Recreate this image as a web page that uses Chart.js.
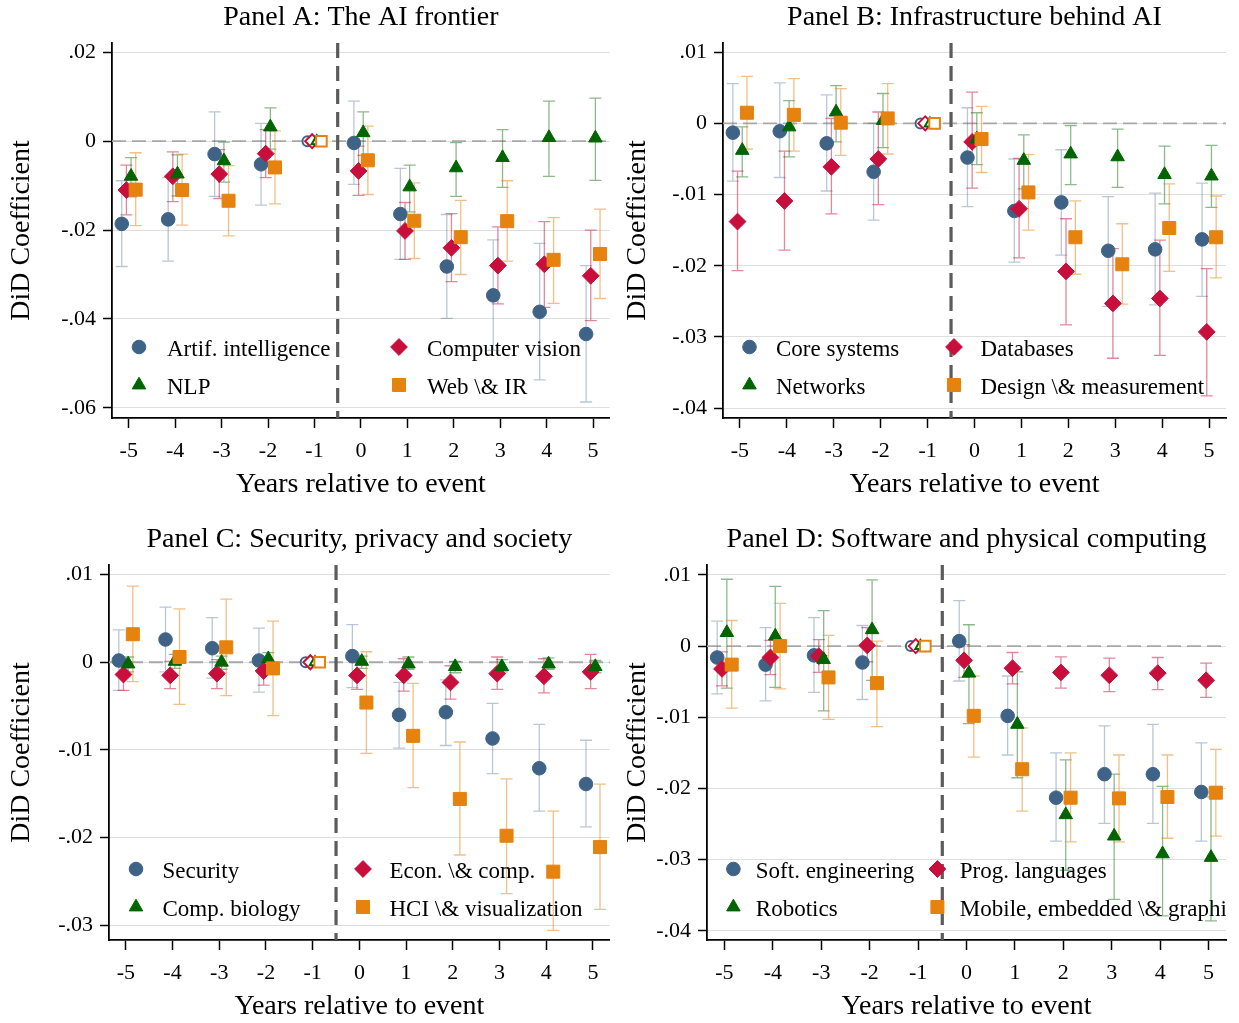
<!DOCTYPE html>
<html>
<head>
<meta charset="utf-8">
<script src="https://cdn.jsdelivr.net/npm/chart.js@4.4.1/dist/chart.umd.min.js"></script>
<style>
    body { margin: 0; background: #fff; }
    #wrap { position: relative; width: 1239px; height: 1023px; }
    canvas { position: absolute; }
</style>
</head>
<body>
<div id="wrap">
    <canvas id="panelA" width="620" height="512" style="left:0;top:0"></canvas>
    <canvas id="panelB" width="619" height="512" style="left:620px;top:0"></canvas>
    <canvas id="panelC" width="620" height="511" style="left:0;top:512px"></canvas>
    <canvas id="panelD" width="619" height="511" style="left:620px;top:512px"></canvas>
</div>
<script>
// Años relativos al evento (-1 es el año de referencia)
const years = [-5, -4, -3, -2, -1, 0, 1, 2, 3, 4, 5];

// Panel A: The AI frontier
const aiCoef = [-0.0186, -0.0176, -0.0029, -0.0052, 0, -0.0004, -0.0164, -0.0282, -0.0347, -0.0384, -0.0434];
const aiLo   = [-0.0282, -0.0270, -0.0124, -0.0144, 0, -0.0097, -0.0266, -0.0399, -0.0471, -0.0537, -0.0587];
const aiHi   = [-0.0089, -0.0082,  0.0066,  0.0040, 0,  0.0090, -0.0061, -0.0165, -0.0222, -0.0230, -0.0280];
const cvCoef = [-0.0110, -0.0079, -0.0074, -0.0028, 0, -0.0067, -0.0202, -0.0240, -0.0280, -0.0277, -0.0303];
const cvLo   = [-0.0166, -0.0136, -0.0129, -0.0082, 0, -0.0122, -0.0266, -0.0316, -0.0366, -0.0374, -0.0404];
const cvHi   = [-0.0054, -0.0024, -0.0019,  0.0026, 0, -0.0011, -0.0138, -0.0163, -0.0193, -0.0181, -0.0200];
const nlpCoef = [-0.0079, -0.0074, -0.0044,  0.0032, 0,  0.0019, -0.0103, -0.0060, -0.0037,  0.0008,  0.0007];
const nlpLo   = [-0.0125, -0.0123, -0.0092, -0.0018, 0, -0.0032, -0.0159, -0.0124, -0.0104, -0.0079, -0.0088];
const nlpHi   = [-0.0037, -0.0031, -0.0002,  0.0075, 0,  0.0066, -0.0054, -0.0003,  0.0026,  0.0090,  0.0097];
const webCoef = [-0.0109, -0.0110, -0.0134, -0.0059, 0, -0.0043, -0.0179, -0.0216, -0.0180, -0.0267, -0.0254];
const webLo   = [-0.0190, -0.0189, -0.0213, -0.0141, 0, -0.0120, -0.0264, -0.0300, -0.0270, -0.0365, -0.0354];
const webHi   = [-0.0026, -0.0029, -0.0055,  0.0023, 0,  0.0034, -0.0094, -0.0133, -0.0089, -0.0172, -0.0153];

// Panel B: Infrastructure behind AI
const coreCoef = [-0.0013, -0.0011, -0.0028, -0.0068, 0, -0.0048, -0.0123, -0.0111, -0.0179, -0.0177, -0.0163];
const coreLo   = [-0.0081, -0.0076, -0.0095, -0.0136, 0, -0.0117, -0.0195, -0.0185, -0.0257, -0.0255, -0.0243];
const coreHi   = [ 0.0056,  0.0057,  0.0040,  0.0000, 0,  0.0022, -0.0050, -0.0037, -0.0103, -0.0098, -0.0084];
const dbCoef = [-0.0138, -0.0109, -0.0061, -0.0050, 0, -0.0026, -0.0120, -0.0208, -0.0253, -0.0246, -0.0293];
const dbLo   = [-0.0207, -0.0178, -0.0127, -0.0114, 0, -0.0091, -0.0189, -0.0283, -0.0330, -0.0326, -0.0383];
const dbHi   = [-0.0067, -0.0039,  0.0007,  0.0016, 0,  0.0044, -0.0049, -0.0134, -0.0176, -0.0164, -0.0204];
const netCoef = [-0.0038, -0.0005,  0.0016,  0.0004, 0, -0.0022, -0.0052, -0.0043, -0.0047, -0.0072, -0.0074];
const netLo   = [-0.0075, -0.0047, -0.0026, -0.0034, 0, -0.0058, -0.0092, -0.0086, -0.0090, -0.0113, -0.0118];
const netHi   = [-0.0005,  0.0032,  0.0053,  0.0042, 0,  0.0015, -0.0016, -0.0003, -0.0008, -0.0032, -0.0031];
const designCoef = [0.0015, 0.0012, 0.0001, 0.0007, 0, -0.0022, -0.0097, -0.0160, -0.0198, -0.0147, -0.0160];
const designLo   = [-0.0036, -0.0039, -0.0045, -0.0043, 0, -0.0069, -0.0150, -0.0212, -0.0254, -0.0208, -0.0217];
const designHi   = [0.0066, 0.0063, 0.0049, 0.0056, 0, 0.0024, -0.0044, -0.0109, -0.0141, -0.0085, -0.0102];

// Panel C: Security, privacy and society
const secCoef = [0.0002, 0.0026, 0.0016, 0.0002, 0, 0.0007, -0.0060, -0.0057, -0.0087, -0.0121, -0.0139];
const secLo   = [-0.0032, -0.0011, -0.0018, -0.0034, 0, -0.0029, -0.0098, -0.0095, -0.0127, -0.0170, -0.0188];
const secHi   = [0.0037, 0.0063, 0.0051, 0.0039, 0, 0.0043, -0.0023, -0.0020, -0.0047, -0.0071, -0.0089];
const econCoef = [-0.0014, -0.0015, -0.0013, -0.0010, 0, -0.0015, -0.0015, -0.0023, -0.0013, -0.0016, -0.0011];
const econLo   = [-0.0032, -0.0030, -0.0030, -0.0026, 0, -0.0031, -0.0033, -0.0042, -0.0031, -0.0035, -0.0030];
const econHi   = [0.0004, 0.0001, 0.0003, 0.0005, 0, 0.0001, 0.0004, -0.0004, 0.0006, 0.0004, 0.0009];
const bioCoef = [-0.0002, 0.0001, 0.0000, 0.0004, 0, 0.0001, -0.0002, -0.0005, -0.0005, -0.0002, -0.0005];
const bioLo   = [-0.0011, -0.0007, -0.0008, -0.0004, 0, -0.0007, -0.0008, -0.0012, -0.0011, -0.0008, -0.0012];
const bioHi   = [0.0006, 0.0009, 0.0007, 0.0011, 0, 0.0007, 0.0006, 0.0001, 0.0003, 0.0005, 0.0002];
const hciCoef = [0.0032, 0.0006, 0.0017, -0.0007, 0, -0.0046, -0.0084, -0.0156, -0.0198, -0.0239, -0.0211];
const hciLo   = [-0.0022, -0.0048, -0.0038, -0.0061, 0, -0.0104, -0.0143, -0.0220, -0.0264, -0.0306, -0.0282];
const hciHi   = [0.0087, 0.0061, 0.0072, 0.0047, 0, 0.0012, -0.0024, -0.0091, -0.0133, -0.0170, -0.0139];

// Panel D: Software and physical computing
const seCoef = [-0.0016, -0.0026, -0.0013, -0.0023, 0, 0.0007, -0.0098, -0.0213, -0.0180, -0.0180, -0.0205];
const seLo   = [-0.0067, -0.0077, -0.0065, -0.0075, 0, -0.0049, -0.0153, -0.0274, -0.0249, -0.0249, -0.0274];
const seHi   = [0.0035, 0.0026, 0.0040, 0.0029, 0, 0.0064, -0.0042, -0.0150, -0.0112, -0.0110, -0.0136];
const plCoef = [-0.0032, -0.0016, -0.0014, 0.0001, 0, -0.0020, -0.0031, -0.0037, -0.0041, -0.0038, -0.0048];
const plLo   = [-0.0056, -0.0040, -0.0037, -0.0022, 0, -0.0044, -0.0053, -0.0059, -0.0064, -0.0061, -0.0072];
const plHi   = [-0.0008, 0.0008, 0.0009, 0.0026, 0, 0.0002, -0.0009, -0.0015, -0.0017, -0.0016, -0.0024];
const robCoef = [0.0019, 0.0014, -0.0019, 0.0023, 0, -0.0038, -0.0110, -0.0237, -0.0267, -0.0292, -0.0297];
const robLo   = [-0.0059, -0.0058, -0.0091, -0.0048, 0, -0.0109, -0.0185, -0.0315, -0.0356, -0.0379, -0.0386];
const robHi   = [0.0094, 0.0084, 0.0050, 0.0093, 0, 0.0030, -0.0036, -0.0160, -0.0180, -0.0197, -0.0212];
const mobCoef = [-0.0026, 0.0000, -0.0044, -0.0052, 0, -0.0098, -0.0173, -0.0213, -0.0214, -0.0212, -0.0206];
const mobLo   = [-0.0087, -0.0060, -0.0103, -0.0113, 0, -0.0156, -0.0232, -0.0275, -0.0275, -0.0270, -0.0267];
const mobHi   = [0.0036, 0.0060, 0.0015, 0.0007, 0, -0.0042, -0.0115, -0.0150, -0.0153, -0.0153, -0.0145];

// Etiquetas de los ejes Y
const yTicksA = [0.02, 0, -0.02, -0.04, -0.06];
const yLabelsA = ['.02', '0', '-.02', '-.04', '-.06'];
const yTicksBD = [0.01, 0, -0.01, -0.02, -0.03, -0.04];
const yLabelsBD = ['.01', '0', '-.01', '-.02', '-.03', '-.04'];
const yTicksC = [0.01, 0, -0.01, -0.02, -0.03];
const yLabelsC = ['.01', '0', '-.01', '-.02', '-.03'];

const serif = "'Liberation Serif', 'Times New Roman', serif";
const xTitle = 'Years relative to event';
const yTitle = 'DiD Coefficient';

// Estilo de cada serie dentro de un panel (círculo, rombo, triángulo, cuadrado)
const offsets = [-0.15, -0.05, 0.05, 0.15];
const markers = [
    { style: 'circle',   color: '#3f6386', bar: 'rgba(63, 99, 134, 0.36)', radius: 6.8, refRadius: 5 },
    { style: 'rectRot',  color: '#c80f3c', bar: 'rgba(200, 15, 60, 0.5)',  radius: 8.4, refRadius: 7 },
    { style: 'triangle', color: '#006400', bar: 'rgba(0, 100, 0, 0.45)',   radius: 7.8, refRadius: 6 },
    { style: 'rect',     color: '#e6820e', bar: 'rgba(230, 130, 14, 0.5)', radius: 9.2, refRadius: 7.5 }
];

// Líneas de referencia, leyenda, intervalos y títulos
const panelDecor = {
    id: 'panelDecor',
    beforeDatasetsDraw(chart, args, opts) {
        const { ctx, chartArea: a, scales: { x, y } } = chart;
        ctx.save();

        // línea discontinua en cero
        const y0 = y.getPixelForValue(0);
        ctx.strokeStyle = '#a8a8a8';
        ctx.lineWidth = 1.8;
        ctx.setLineDash([14, 6]);
        ctx.beginPath();
        ctx.moveTo(a.left, y0);
        ctx.lineTo(a.right, y0);
        ctx.stroke();

        // línea vertical del evento
        const xe = x.getPixelForValue(-0.5);
        ctx.strokeStyle = '#5b5b5b';
        ctx.lineWidth = 3.2;
        ctx.setLineDash([15, 8]);
        ctx.beginPath();
        ctx.moveTo(xe, a.top);
        ctx.lineTo(xe, a.bottom);
        ctx.stroke();
        ctx.setLineDash([]);

        // leyenda dentro del área del gráfico, recortada a sus bordes
        ctx.save();
        ctx.beginPath();
        ctx.rect(a.left, a.top, a.right - a.left, a.bottom - a.top);
        ctx.clip();
        ctx.font = `23px ${serif}`;
        ctx.textBaseline = 'middle';
        ctx.textAlign = 'left';
        chart.data.datasets.forEach((ds, k) => {
            const m = markers[k];
            const mx = a.left + opts.legendCols[k % 2];
            const my = a.bottom + opts.legendRows[Math.floor(k / 2)];
            ctx.fillStyle = m.color;
            ctx.strokeStyle = m.color;
            ctx.lineWidth = 1;
            Chart.helpers.drawPoint(ctx, { pointStyle: m.style, radius: m.radius, rotation: 0, borderWidth: 1 }, mx, my);
            ctx.fillStyle = '#000';
            ctx.fillText(ds.label, mx + opts.legendGap, my + 3);
        });
        ctx.restore();

        // intervalos de confianza
        ctx.lineWidth = 1.3;
        chart.data.datasets.forEach((ds, k) => {
            ctx.strokeStyle = markers[k].bar;
            ds.data.forEach((p, i) => {
                const lo = ds.ciLo[i], hi = ds.ciHi[i];
                if (lo === hi) return;
                const px = x.getPixelForValue(p.x);
                const pLo = y.getPixelForValue(lo);
                const pHi = y.getPixelForValue(hi);
                ctx.beginPath();
                ctx.moveTo(px, pLo);
                ctx.lineTo(px, pHi);
                ctx.moveTo(px - 6, pLo);
                ctx.lineTo(px + 6, pLo);
                ctx.moveTo(px - 6, pHi);
                ctx.lineTo(px + 6, pHi);
                ctx.stroke();
            });
        });
        ctx.restore();
    },
    afterDraw(chart, args, opts) {
        const { ctx, chartArea: a } = chart;
        const cx = (a.left + a.right) / 2;
        ctx.save();
        ctx.fillStyle = '#000';
        ctx.font = `28px ${serif}`;
        ctx.textAlign = 'center';
        ctx.textBaseline = 'middle';
        ctx.fillText(opts.title, cx, opts.titleY);
        ctx.fillText(xTitle, cx, opts.xTitleY);
        ctx.translate(opts.yTitleX, (a.top + a.bottom) / 2);
        ctx.rotate(-Math.PI / 2);
        ctx.fillText(yTitle, 0, 0);
        ctx.restore();
    }
};

function makePanel(id, cfg) {
    const canvas = document.getElementById(id);
    const datasets = cfg.series.map((s, k) => {
        const m = markers[k];
        const isRef = c => years[c.dataIndex] === -1;
        return {
            label: s.label,
            data: years.map((yr, i) => ({ x: yr + offsets[k], y: s.coef[i] })),
            ciLo: s.lo,
            ciHi: s.hi,
            order: 4 - k,
            pointStyle: m.style,
            pointRadius: c => isRef(c) ? m.refRadius : m.radius,
            pointBackgroundColor: c => isRef(c) ? '#ffffff' : m.color,
            pointBorderColor: m.color,
            pointBorderWidth: c => isRef(c) ? 2 : 1,
            showLine: false
        };
    });

    return new Chart(canvas.getContext('2d'), {
        type: 'scatter',
        data: { datasets },
        options: {
            responsive: false,
            animation: false,
            devicePixelRatio: 1,
            layout: { padding: { top: cfg.area.top, right: canvas.width - cfg.area.right, left: 0, bottom: 0 } },
            plugins: {
                legend: { display: false },
                tooltip: { enabled: false },
                panelDecor: {
                    title: cfg.title,
                    titleY: cfg.area.top - 25,
                    xTitleY: cfg.area.bottom + 67,
                    yTitleX: cfg.yTitleX,
                    legendCols: cfg.legendCols,
                    legendGap: cfg.legendGap,
                    legendRows: [-71, -33]
                }
            },
            scales: {
                x: {
                    type: 'linear',
                    min: -5.36,
                    max: 5.36,
                    afterBuildTicks: s => { s.ticks = years.map(v => ({ value: v })); },
                    afterFit: s => { s.height = canvas.height - cfg.area.bottom; },
                    ticks: {
                        color: '#000',
                        font: { family: serif, size: 22 },
                        padding: 10,
                        maxRotation: 0,
                        callback: v => String(v)
                    },
                    grid: { drawOnChartArea: false, tickLength: 10, tickColor: '#000', tickWidth: 1.5 },
                    border: { color: '#000', width: 1.8 }
                },
                y: {
                    type: 'linear',
                    min: cfg.yMin,
                    max: cfg.yMax,
                    afterBuildTicks: s => { s.ticks = cfg.yTicks.map(v => ({ value: v })); },
                    afterFit: s => { s.width = cfg.area.left; },
                    ticks: {
                        color: '#000',
                        font: { family: serif, size: 22 },
                        padding: 7,
                        callback: (v, i) => cfg.yLabels[i]
                    },
                    grid: { color: '#dedede', lineWidth: 1, tickLength: 9, tickColor: '#000', tickWidth: 1.5 },
                    border: { color: '#000', width: 1.8 }
                }
            }
        },
        plugins: [panelDecor]
    });
}

makePanel('panelA', {
    title: 'Panel A: The AI frontier',
    area: { left: 112, right: 612, top: 43, bottom: 418 },
    yMin: -0.0623, yMax: 0.0221, yTicks: yTicksA, yLabels: yLabelsA,
    yTitleX: 22, legendCols: [27, 287], legendGap: 28,
    series: [
        { label: 'Artif. intelligence', coef: aiCoef, lo: aiLo, hi: aiHi },
        { label: 'Computer vision', coef: cvCoef, lo: cvLo, hi: cvHi },
        { label: 'NLP', coef: nlpCoef, lo: nlpLo, hi: nlpHi },
        { label: 'Web \\& IR', coef: webCoef, lo: webLo, hi: webHi }
    ]
});

makePanel('panelB', {
    title: 'Panel B: Infrastructure behind AI',
    area: { left: 103, right: 606, top: 43, bottom: 418 },
    yMin: -0.0414, yMax: 0.0113, yTicks: yTicksBD, yLabels: yLabelsBD,
    yTitleX: 18, legendCols: [26.5, 231], legendGap: 26.5,
    series: [
        { label: 'Core systems', coef: coreCoef, lo: coreLo, hi: coreHi },
        { label: 'Databases', coef: dbCoef, lo: dbLo, hi: dbHi },
        { label: 'Networks', coef: netCoef, lo: netLo, hi: netHi },
        { label: 'Design \\& measurement', coef: designCoef, lo: designLo, hi: designHi }
    ]
});

makePanel('panelC', {
    title: 'Panel C: Security, privacy and society',
    area: { left: 109, right: 612, top: 53, bottom: 428 },
    yMin: -0.0317, yMax: 0.0111, yTicks: yTicksC, yLabels: yLabelsC,
    yTitleX: 22, legendCols: [27, 254], legendGap: 26.5,
    series: [
        { label: 'Security', coef: secCoef, lo: secLo, hi: secHi },
        { label: 'Econ. \\& comp.', coef: econCoef, lo: econLo, hi: econHi },
        { label: 'Comp. biology', coef: bioCoef, lo: bioLo, hi: bioHi },
        { label: 'HCI \\& visualization', coef: hciCoef, lo: hciLo, hi: hciHi }
    ]
});

makePanel('panelD', {
    title: 'Panel D: Software and physical computing',
    area: { left: 87, right: 606, top: 53, bottom: 428 },
    yMin: -0.0413, yMax: 0.0114, yTicks: yTicksBD, yLabels: yLabelsBD,
    yTitleX: 18, legendCols: [26.4, 230.4], legendGap: 22.4,
    series: [
        { label: 'Soft. engineering', coef: seCoef, lo: seLo, hi: seHi },
        { label: 'Prog. languages', coef: plCoef, lo: plLo, hi: plHi },
        { label: 'Robotics', coef: robCoef, lo: robLo, hi: robHi },
        { label: 'Mobile, embedded \\& graphics', coef: mobCoef, lo: mobLo, hi: mobHi }
    ]
});
</script>
</body>
</html>
